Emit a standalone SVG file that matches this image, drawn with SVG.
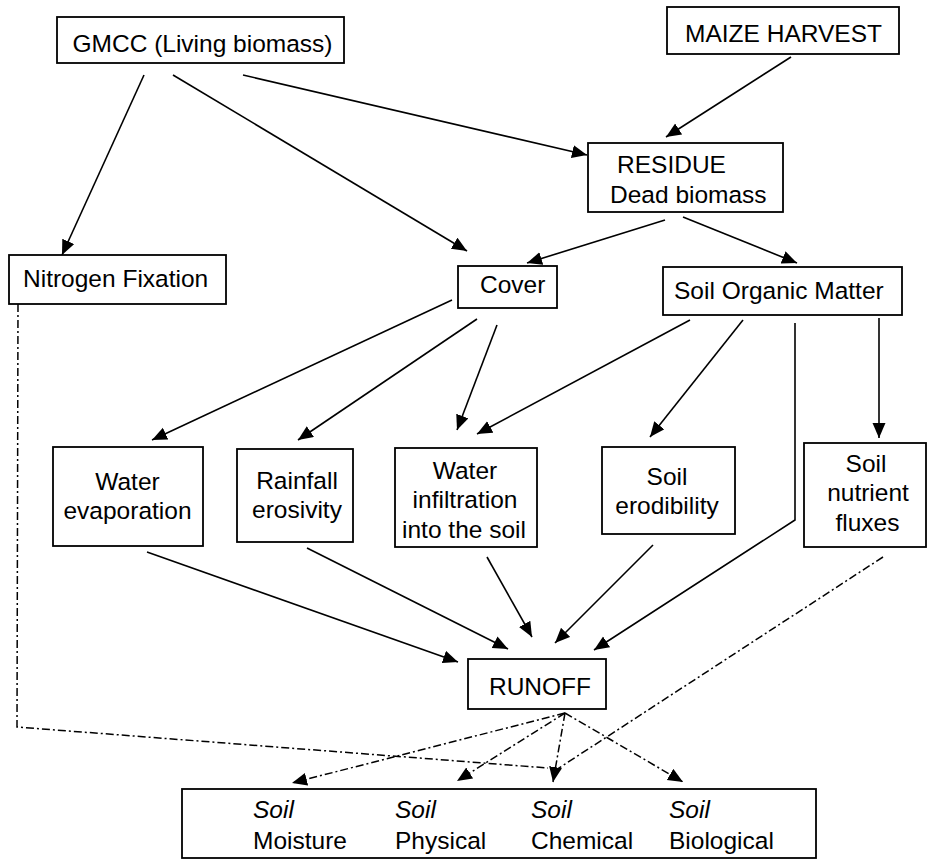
<svg xmlns="http://www.w3.org/2000/svg" width="928" height="859" viewBox="0 0 928 859">
<defs>
<marker id="ah" markerWidth="16" markerHeight="14" refX="15" refY="6.5" orient="auto" markerUnits="userSpaceOnUse">
<path d="M0,0 L15,6.5 L0,13 z" fill="#000"/>
</marker>
<style>
.box{fill:#fff;stroke:#000;stroke-width:1.8}
text{font-family:"Liberation Sans",Arial,sans-serif;font-size:24.5px;fill:#000}
.m{text-anchor:middle}
.it{font-style:italic}
.c{fill:none;stroke:#000;stroke-width:1.6}
.a{marker-end:url(#ah)}
.d{fill:none;stroke:#000;stroke-width:1.5;stroke-dasharray:8 3 2 3}
</style>
</defs>
<rect width="928" height="859" fill="#fff"/>

<g id="connectors">
<line class="c a" x1="144" y1="75" x2="62" y2="255"/>
<line class="c a" x1="173" y1="75" x2="467" y2="251"/>
<line class="c a" x1="243" y1="75" x2="587" y2="155"/>
<line class="c a" x1="791" y1="57" x2="666" y2="137"/>
<line class="c a" x1="665" y1="220" x2="527" y2="263"/>
<line class="c a" x1="683" y1="217" x2="797" y2="263"/>
<line class="c a" x1="452" y1="300" x2="152" y2="440"/>
<line class="c a" x1="477" y1="319" x2="298" y2="440"/>
<line class="c a" x1="497" y1="325" x2="457" y2="430"/>
<line class="c a" x1="690" y1="320" x2="477" y2="434"/>
<line class="c a" x1="743" y1="320" x2="650" y2="437"/>
<line class="c a" x1="879" y1="318" x2="879" y2="438"/>
<polyline class="c a" points="795,323 795,520 594,650"/>
<line class="c a" x1="147" y1="552" x2="458" y2="662"/>
<line class="c a" x1="307" y1="548" x2="508" y2="649"/>
<line class="c a" x1="487" y1="557" x2="532" y2="637"/>
<line class="c a" x1="653" y1="545" x2="555" y2="643"/>
<polyline class="d" points="18,304 17,727 548,768"/>
<line class="d" x1="883" y1="557" x2="556" y2="770"/>
<line class="d a" x1="565" y1="713" x2="292" y2="783"/>
<line class="d a" x1="565" y1="713" x2="457" y2="781"/>
<line class="d a" x1="565" y1="713" x2="553" y2="782"/>
<line class="d a" x1="565" y1="713" x2="683" y2="782"/>
</g>

<g id="gmcc"><rect class="box" x="57" y="17" width="287" height="46"/><text class="m" x="202.5" y="52">GMCC (Living biomass)</text></g>
<g id="maize"><rect class="box" x="667" y="7" width="232" height="47"/><text class="m" x="783.5" y="42">MAIZE HARVEST</text></g>
<g id="residue"><rect class="box" x="588" y="143" width="195" height="69"/><text x="617" y="173">RESIDUE</text><text x="610" y="203">Dead biomass</text></g>
<g id="nitrogen"><rect class="box" x="9" y="255" width="217" height="49"/><text x="23" y="287">Nitrogen Fixation</text></g>
<g id="cover"><rect class="box" x="458" y="266" width="99" height="42"/><text x="480" y="293">Cover</text></g>
<g id="som"><rect class="box" x="663" y="267" width="239" height="48"/><text x="674" y="299">Soil Organic Matter</text></g>
<g id="evaporation"><rect class="box" x="53" y="447" width="150" height="99"/><text class="m" x="127.5" y="490">Water</text><text class="m" x="127.5" y="519">evaporation</text></g>
<g id="rainfall"><rect class="box" x="237" y="449" width="116" height="93"/><text class="m" x="297" y="489">Rainfall</text><text class="m" x="297" y="518">erosivity</text></g>
<g id="infiltration"><rect class="box" x="395" y="448" width="142" height="99"/><text class="m" x="465" y="479">Water</text><text class="m" x="465" y="508">infiltration</text><text class="m" x="464" y="538">into the soil</text></g>
<g id="erodibility"><rect class="box" x="602" y="447" width="133" height="87"/><text class="m" x="667" y="485">Soil</text><text class="m" x="667" y="514">erodibility</text></g>
<g id="nutrient"><rect class="box" x="804" y="443" width="122" height="104"/><text class="m" x="866" y="472">Soil</text><text class="m" x="868" y="501">nutrient</text><text class="m" x="867.5" y="531">fluxes</text></g>
<g id="runoff"><rect class="box" x="468" y="659" width="138" height="50"/><text class="m" x="540" y="695">RUNOFF</text></g>
<g id="soil"><rect class="box" x="182" y="789" width="634" height="69"/>
<text class="it" x="253" y="818">Soil</text><text x="253" y="849">Moisture</text>
<text class="it" x="395" y="818">Soil</text><text x="395" y="849">Physical</text>
<text class="it" x="531" y="818">Soil</text><text x="531" y="849">Chemical</text>
<text class="it" x="669" y="818">Soil</text><text x="669" y="849">Biological</text>
</g>
</svg>
